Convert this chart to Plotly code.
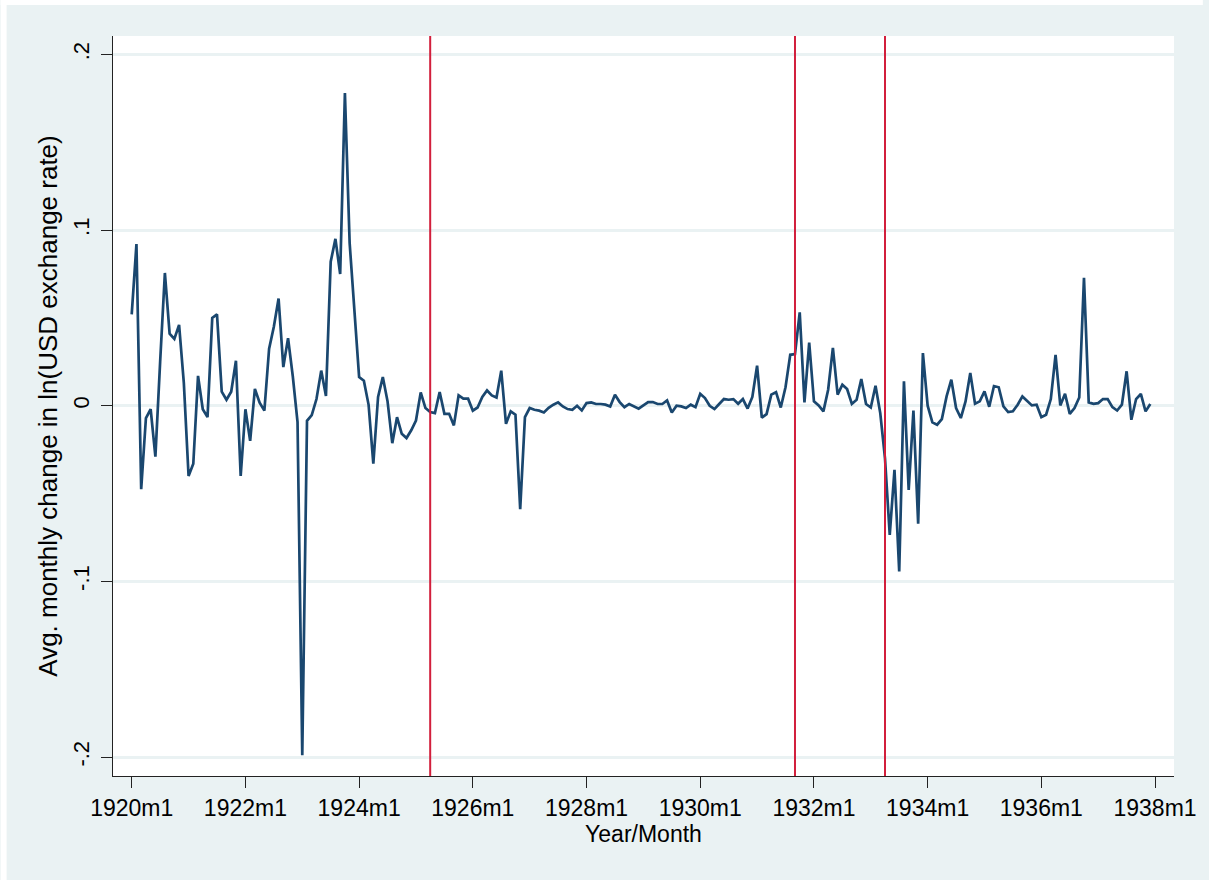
import plotly.graph_objects as go

# Average monthly change in ln(USD exchange rate), monthly from 1920m1 to 1937m12
fx_change = [
    0.052, 0.092, -0.0475, -0.007, -0.002, -0.029, 0.025, 0.0756, 0.041, 0.038, 0.046, 0.013,   # 1920
    -0.040, -0.033, 0.017, -0.002, -0.0065, 0.050, 0.052, 0.008, 0.0034, 0.008, 0.0256, -0.040,  # 1921
    -0.002, -0.020, 0.0096, 0.0017, -0.0028, 0.0325, 0.045, 0.061, 0.022, 0.0385, 0.0168, -0.0093,  # 1922
    -0.199, -0.0086, -0.0054, 0.0038, 0.020, 0.0056, 0.082, 0.095, 0.075, 0.178, 0.0926, 0.055,  # 1923
    0.0163, 0.0142, 0.0005, -0.033, 0.005, 0.0163, 0.0025, -0.0213, -0.0065, -0.016, -0.0184, -0.014,  # 1924
    -0.0084, 0.0076, -0.0013, -0.0036, -0.0042, 0.0078, -0.0046, -0.0046, -0.0112, 0.0059, 0.004, 0.004,  # 1925
    -0.0028, -0.001, 0.005, 0.0087, 0.0059, 0.0047, 0.020, -0.0103, -0.0032, -0.0051, -0.0589, -0.0065,  # 1926
    -0.0013, -0.0023, -0.0028, -0.0038, -0.0012, 0.0006, 0.0019, -0.0004, -0.0019, -0.0023, 0.0, -0.0027,  # 1927
    0.0015, 0.0019, 0.001, 0.001, 0.0006, -0.0004, 0.0063, 0.0021, -0.0008, 0.001, -0.0004, -0.0017,  # 1928
    0.0002, 0.0021, 0.0021, 0.001, 0.001, 0.003, -0.0038, 0.0, -0.0004, -0.0013, 0.0006, -0.0008,  # 1929
    0.0068, 0.0044, 0.0, -0.0019, 0.001, 0.0038, 0.0034, 0.0038, 0.0011, 0.0038, -0.0016, 0.005,  # 1930
    0.0228, -0.0068, -0.0048, 0.0063, 0.0077, -0.001, 0.0105, 0.029, 0.0294, 0.0532, 0.0019, 0.036,  # 1931
    0.0025, 0.0002, -0.0032, 0.0091, 0.0329, 0.0063, 0.012, 0.0095, 0.001, 0.0034, 0.0152, 0.001,  # 1932
    -0.001, 0.0114, -0.0042, -0.030, -0.0735, -0.0365, -0.0944, 0.0139, -0.0479, -0.0028, -0.0672, 0.030,  # 1933
    0.0, -0.0095, -0.0108, -0.0076, 0.0053, 0.0148, -0.0013, -0.007, 0.0025, 0.0186, 0.0011, 0.0025,  # 1934
    0.0082, -0.0006, 0.0112, 0.0105, -0.0004, -0.0036, -0.0032, 0.0006, 0.0053, 0.0025, 0.0002, 0.0006,  # 1935
    -0.0065, -0.0051, 0.0038, 0.029, 0.0002, 0.0068, -0.0046, -0.0013, 0.0047, 0.0728, 0.0019, 0.0011,  # 1936
    0.0015, 0.0038, 0.0038, -0.0008, -0.0027, 0.0006, 0.0196, -0.008, 0.0038, 0.0067, -0.0032, 0.001,  # 1937
]

start_year = 1920
event_months = ["1925m4", "1931m9", "1933m4"]
x_tick_labels = ["1920m1", "1922m1", "1924m1", "1926m1", "1928m1",
                 "1930m1", "1932m1", "1934m1", "1936m1", "1938m1"]
y_tick_values = [-0.2, -0.1, 0.0, 0.1, 0.2]
y_tick_labels = ["-.2", "-.1", "0", ".1", ".2"]


def month_index(label):
    yr, mo = label.split("m")
    return (int(yr) - start_year) * 12 + int(mo) - 1


x_idx = list(range(len(fx_change)))
month_labels = [f"{start_year + i // 12}m{i % 12 + 1}" for i in x_idx]

FONT = "Liberation Sans, Arial, sans-serif"
BG = "#EAF2F3"

fig = go.Figure()
fig.add_trace(go.Scatter(
    x=x_idx, y=fx_change, mode="lines",
    line=dict(color="#1A476F", width=2.7),
    text=month_labels, hovertemplate="%{text}: %{y}<extra></extra>",
    showlegend=False,
))

for ev in event_months:
    xi = month_index(ev)
    fig.add_shape(type="line", xref="x", yref="paper", x0=xi, x1=xi, y0=0, y1=1,
                  line=dict(color="#D21F3C", width=2), layer="above")

W, H = 1209, 880
ml, mr, mt, mb = 113, 29, 36, 104
pw, ph = W - ml - mr, H - mt - mb


def px_x(p):
    return (p - ml) / pw


def px_y(p):
    return (H - mb - p) / ph


# thin white border at the top and left of the graph region
fig.add_shape(type="rect", xref="paper", yref="paper", layer="below",
              x0=px_x(0), x1=px_x(6), y0=px_y(H), y1=px_y(0),
              fillcolor="white", line=dict(width=0))
fig.add_shape(type="rect", xref="paper", yref="paper", layer="below",
              x0=px_x(0), x1=px_x(W), y0=px_y(5), y1=px_y(0),
              fillcolor="white", line=dict(width=0))

fig.update_layout(
    width=W, height=H,
    margin=dict(l=ml, r=mr, t=mt, b=mb, pad=0),
    paper_bgcolor=BG, plot_bgcolor="white",
    font=dict(family=FONT, color="black"),
    hovermode=False,
    xaxis=dict(
        range=[-3.95, 220.0],
        tickvals=[month_index(t) for t in x_tick_labels],
        ticktext=x_tick_labels,
        ticks="outside", ticklen=11, tickwidth=1, tickcolor="#222",
        showline=True, linecolor="#222", linewidth=1,
        showgrid=False, zeroline=False,
        tickfont=dict(size=23, family=FONT, color="black"),
        title=dict(text="Year/Month", font=dict(size=23, family=FONT, color="black"), standoff=0),
    ),
    yaxis=dict(
        range=[-0.2108, 0.2105],
        tickvals=y_tick_values, ticktext=y_tick_labels, tickangle=-90,
        ticks="outside", ticklen=11, tickwidth=1, tickcolor="#222",
        showline=True, linecolor="#222", linewidth=1,
        showgrid=True, gridcolor=BG, gridwidth=2.5, zeroline=False,
        tickfont=dict(size=22, family=FONT, color="black"),
        ticklabelstandoff=3,
        title=dict(text="Avg. monthly change in ln(USD exchange rate)",
                   font=dict(size=26, family=FONT, color="black"), standoff=4),
    ),
)

# remove the default 8px page margin so the figure fills the window exactly
fig.write_html("out.html", config={"displayModeBar": False},
               post_script="document.body.style.margin='0px';")
